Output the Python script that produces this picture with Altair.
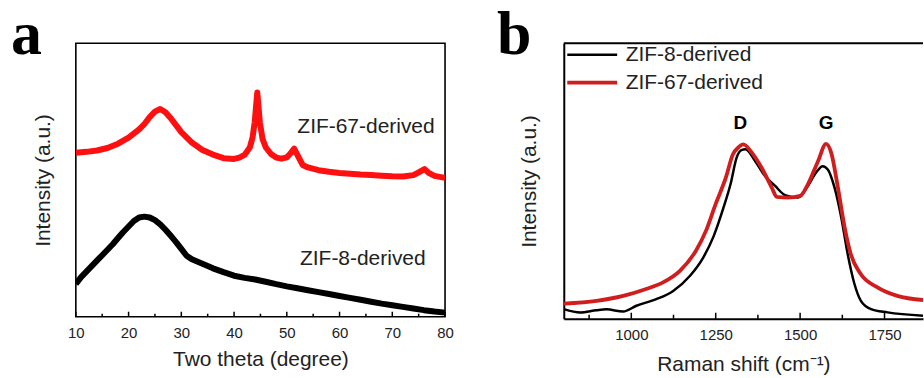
import altair as alt
import pandas as pd

# ---------------- data: panel a (XRD) ----------------
xrd_tt_67 = [10, 12, 14, 16, 18, 20, 22, 23, 24, 25, 26, 27, 28, 30, 32, 34, 36, 38, 40, 41, 42, 43, 43.5, 43.9,
             44.4, 44.9, 45.4, 46, 47, 48, 49, 50, 50.6, 51.4, 52.2, 53, 54, 56, 58, 60, 62, 64, 66, 68, 70, 72,
             74, 75, 76.1, 77, 78, 80]
xrd_int_67 = [60, 60.3, 60.8, 61.7, 63.3, 65.5, 68.5, 70.5, 73, 75, 76, 74.8, 72.6, 67.5, 63.7, 61, 59.3, 58, 57.7,
              58.2, 59.2, 62, 65.5, 71, 82, 71, 65, 62, 59.5, 58.2, 57.8, 58.3, 59.5, 61.5, 58.5, 55.5, 54.6, 53.6,
              53, 52.6, 52.3, 52, 51.8, 51.6, 51.4, 51.3, 51.8, 52.8, 54, 52.5, 51.5, 50.8]

xrd_tt_8 = [10, 11, 12, 13, 14, 15, 16, 17, 18, 19, 20, 21, 22, 23, 24, 25, 26, 27, 28, 29, 30, 31, 32, 34, 36,
            38, 40, 42, 44, 46, 48, 50, 52, 54, 56, 58, 60, 62, 64, 66, 68, 70, 72, 74, 76, 78, 80]
xrd_int_8 = [12, 14.5, 16.5, 18.5, 20.5, 22.5, 24.5, 26.5, 28.8, 31, 33, 35, 36.3, 36.6, 36.3, 35.3, 33.8, 31.8,
             29.6, 27.3, 24.8, 22.3, 21, 19.4, 17.7, 16.3, 15, 14.2, 13.6, 12.8, 11.9, 11.1, 10.4, 9.7, 9, 8.3,
             7.6, 6.9, 6.2, 5.5, 4.8, 4.2, 3.6, 3.0, 2.4, 1.9, 1.5]

xrd_label_names = ["ZIF-67-derived", "ZIF-8-derived"]
xrd_label_x = [52, 52.5]
xrd_label_y = [69.5, 21.2]

xrd_ticks_major = [10, 20, 30, 40, 50, 60, 70, 80]
xrd_ticks_minor = [15, 25, 35, 45, 55, 65, 75]

# ---------------- data: panel b (Raman) ----------------
raman_wn_8 = [800, 849, 897, 926, 976, 1015, 1074, 1124, 1174, 1213, 1244, 1273, 1294, 1312, 1326, 1338, 1367,
              1396, 1426, 1455, 1494, 1523, 1547, 1567, 1582, 1602, 1622, 1641, 1661, 1680, 1710, 1759, 1864]
raman_int_8 = [3.5, 2.3, 3.1, 3.4, 2.6, 4.7, 7.1, 10.1, 15.6, 22.2, 30, 40.3, 48.9, 58.5, 61.2, 61.5, 57.2, 51.8,
               48.2, 44.9, 44, 48.2, 53, 55.4, 54.2, 47.6, 36.7, 23.4, 12.6, 6.5, 3.5, 2.3, 1.1]

raman_wn_67 = [800, 897, 976, 1044, 1094, 1144, 1191, 1221, 1250, 1280, 1301, 1318, 1332, 1357, 1386, 1416, 1431,
               1465, 1500, 1523, 1553, 1577, 1592, 1612, 1632, 1650, 1679, 1729, 1788, 1864]
raman_int_67 = [5.5, 6.5, 8.3, 10.8, 13.2, 17.4, 24.6, 31.9, 41.7, 51.2, 59.7, 62.3, 63.3, 60.3, 54.8, 47.6, 44.2,
                44, 44.6, 48.8, 57.2, 63.5, 60.3, 47.6, 33.1, 23.5, 16.3, 11.4, 8.3, 6.8]

raman_series = ["ZIF-8-derived", "ZIF-67-derived"]
raman_colors = ["#000000", "#d01e1e"]
raman_widths = [2.5, 3.8]
band_names = ["D", "G"]
band_x = [1323, 1577]
band_y = [71, 71]

raman_ticks_major = [1000, 1250, 1500, 1750]
raman_ticks_minor = [875, 1125, 1375, 1625]

FONT = "Liberation Sans"
W_A, H_A = 370, 274
W_B, H_B = 360, 276
GAP = 119

# ---------------- panel a ----------------
df67 = pd.DataFrame({"x": xrd_tt_67, "y": xrd_int_67})
df8 = pd.DataFrame({"x": xrd_tt_8, "y": xrd_int_8})
xa = alt.X("x:Q", scale=alt.Scale(domain=[10, 80], nice=False),
           axis=alt.Axis(values=xrd_ticks_major, format="d", labelFlush=False, title="Two theta (degree)",
                         grid=False, ticks=False, domain=False, labelFontSize=15, labelFont=FONT,
                         labelColor="#222", labelPadding=9, titleFontSize=21, titleFont=FONT,
                         titleFontWeight="normal", titleColor="#222", titlePadding=8))
ya = alt.Y("y:Q", scale=alt.Scale(domain=[0, 100], nice=False, zero=False),
           axis=alt.Axis(title="Intensity (a.u.)", labels=False, ticks=False, domain=False, grid=False,
                         titleFontSize=21, titleFont=FONT, titleFontWeight="normal", titleColor="#222",
                         titlePadding=22))

line67 = alt.Chart(df67).mark_line(color="#ff1010", strokeWidth=6, strokeJoin="round", clip=True).encode(
    x=xa, y=ya)
line8 = alt.Chart(df8).mark_line(color="#000000", strokeWidth=6, strokeJoin="round", clip=True).encode(
    x="x:Q", y="y:Q")

lab_a = alt.Chart(pd.DataFrame({"x": xrd_label_x, "y": xrd_label_y, "t": xrd_label_names})).mark_text(
    align="left", baseline="middle", fontSize=21, font=FONT, color="#222").encode(x="x:Q", y="y:Q", text="t:N")

tick_maj_a = alt.Chart(pd.DataFrame({"x": xrd_ticks_major})).mark_rule(color="#000", strokeWidth=1.5).encode(
    x="x:Q", y=alt.value(H_A), y2=alt.value(H_A - 5))
tick_min_a = alt.Chart(pd.DataFrame({"x": xrd_ticks_minor})).mark_rule(color="#000", strokeWidth=1.5).encode(
    x="x:Q", y=alt.value(H_A), y2=alt.value(H_A - 3))

letter_a = alt.Chart(pd.DataFrame({"t": ["a"]})).mark_text(
    align="left", baseline="alphabetic", fontSize=62, font="Liberation Serif", fontWeight="bold",
    color="#000").encode(text="t:N", x=alt.value(-65), y=alt.value(11))

panel_a = alt.layer(line67, line8, lab_a, tick_maj_a, tick_min_a, letter_a).properties(
    width=W_A, height=H_A, view=alt.ViewBackground(stroke="#000", strokeWidth=1.6))

# ---------------- panel b ----------------
rows = []
for name, xs, ys in [(raman_series[0], raman_wn_8, raman_int_8), (raman_series[1], raman_wn_67, raman_int_67)]:
    for x, y in zip(xs, ys):
        rows.append({"x": x, "y": y, "s": name})
dfr = pd.DataFrame(rows)

xb = alt.X("x:Q", scale=alt.Scale(domain=[800, 1864], nice=False),
           axis=alt.Axis(values=raman_ticks_major, format="d", labelFlush=False, title="Raman shift (cm⁻¹)",
                         grid=False, ticks=False, domain=True, domainColor="#000", domainWidth=2,
                         labelFontSize=15, labelFont=FONT, labelColor="#222", labelPadding=9,
                         titleFontSize=21, titleFont=FONT, titleFontWeight="normal", titleColor="#222",
                         titlePadding=11))
yb = alt.Y("y:Q", scale=alt.Scale(domain=[0, 100], nice=False, zero=False),
           axis=alt.Axis(title="Intensity (a.u.)", labels=False, ticks=False, domain=True, domainColor="#000",
                         domainWidth=2, grid=False, titleFontSize=21, titleFont=FONT, titleFontWeight="normal",
                         titleColor="#222", titlePadding=24))

# legend line symbol: a 10-px symbol box whose stroke reaches 40 px further to the left
legend_b = alt.Legend(
    title=None, orient="none", legendX=W_A + GAP + 38, legendY=1, symbolType="M-9,0H1", symbolSize=100,
    symbolStrokeWidth=alt.ExprRef(expr="datum.value === 'ZIF-67-derived' ? 4 : 2"),
    labelFontSize=21, labelFont=FONT, labelColor="#222", padding=0, rowPadding=6, labelOffset=3)

lines_b = alt.Chart(dfr).mark_line(interpolate="monotone", clip=True).encode(
    x=xb, y=yb,
    color=alt.Color("s:N", scale=alt.Scale(domain=raman_series, range=raman_colors), sort=raman_series,
                    legend=legend_b),
    strokeWidth=alt.StrokeWidth("s:N", scale=alt.Scale(domain=raman_series, range=raman_widths), legend=None),
    order=alt.Order("x:Q"))

bands = alt.Chart(pd.DataFrame({"x": band_x, "y": band_y, "t": band_names})).mark_text(
    align="center", baseline="middle", fontSize=19, font=FONT, fontWeight="bold", color="#000").encode(
    x="x:Q", y="y:Q", text="t:N")

tick_maj_b = alt.Chart(pd.DataFrame({"x": raman_ticks_major})).mark_rule(color="#000", strokeWidth=1.5).encode(
    x="x:Q", y=alt.value(H_B), y2=alt.value(H_B - 6))
tick_min_b = alt.Chart(pd.DataFrame({"x": raman_ticks_minor})).mark_rule(color="#000", strokeWidth=1.5).encode(
    x="x:Q", y=alt.value(H_B), y2=alt.value(H_B - 4))

top_b = alt.Chart(pd.DataFrame({"t": [0]})).mark_rule(color="#000", strokeWidth=2).encode(
    x=alt.value(0), x2=alt.value(W_B), y=alt.value(0))

letter_b = alt.Chart(pd.DataFrame({"t": ["b"]})).mark_text(
    align="left", baseline="alphabetic", fontSize=62, font="Liberation Serif", fontWeight="bold",
    color="#000").encode(text="t:N", x=alt.value(-67), y=alt.value(11))

panel_b = alt.layer(lines_b, bands, tick_maj_b, tick_min_b, top_b, letter_b).properties(
    width=W_B, height=H_B, view=alt.ViewBackground(stroke=None))

chart = alt.hconcat(panel_a, panel_b, spacing=GAP, bounds="flush").properties(
    padding={"left": 10, "top": 3, "right": 0, "bottom": 0}, background="white"
).configure_view(stroke=None)

chart.save("out.html", embed_options={"renderer": "svg", "actions": False})
